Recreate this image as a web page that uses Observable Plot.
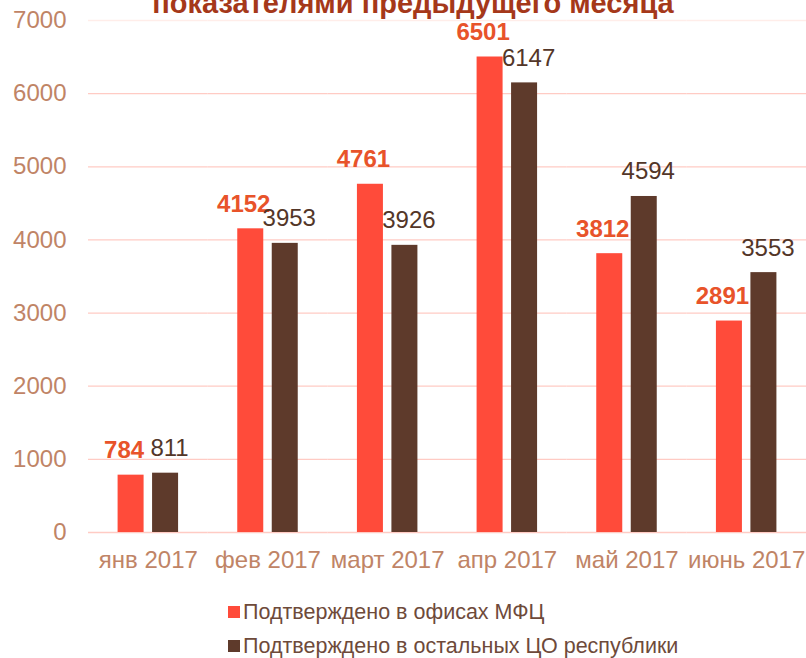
<!DOCTYPE html>
<html>
<head>
<meta charset="utf-8">
<script src="https://cdn.jsdelivr.net/npm/d3@7"></script>
<script src="https://cdn.jsdelivr.net/npm/@observablehq/plot@0.6"></script>
<style>
  html, body { margin: 0; padding: 0; background: #fff; }
  #wrap { position: relative; width: 806px; height: 658px; overflow: hidden; font-family: "Liberation Sans", Arial, sans-serif; }
  #title { position: absolute; left: 0; width: 826px; top: -11px; text-align: center; font-weight: bold; font-size: 29px; line-height: 29px; color: #A5381A; white-space: nowrap; }
  #chart { position: absolute; left: 0; top: 0; }
  #legend { position: absolute; left: 228px; top: 595px; font-size: 21.5px; color: #6E4A3A; }
  .row { display: flex; align-items: center; height: 34px; }
  .sw { width: 12px; height: 12px; margin-right: 3px; }
</style>
</head>
<body>
<div id="wrap">
  <div id="chart"></div>
  <div id="title">показателями предыдущего месяца</div>
  <div id="legend"></div>
</div>
<script>
const months = ["янв 2017", "фев 2017", "март 2017", "апр 2017", "май 2017", "июнь 2017"];
const seriesNames = ["Подтверждено в офисах МФЦ", "Подтверждено в остальных ЦО республики"];
const mfcValues = [784, 4152, 4761, 6501, 3812, 2891];
const otherValues = [811, 3953, 3926, 6147, 4594, 3553];
const yTicks = [0, 1000, 2000, 3000, 4000, 5000, 6000, 7000];
const seriesColors = ["#FF4B3A", "#5E3A2B"];

const mfcData = months.map((m, i) => ({month: m, series: seriesNames[0], value: mfcValues[i]}));
const otherData = months.map((m, i) => ({month: m, series: seriesNames[1], value: otherValues[i]}));
const data = mfcData.concat(otherData);

const chart = Plot.plot({
  width: 806,
  height: 585,
  marginLeft: 88,
  marginRight: 0,
  marginTop: 20,
  marginBottom: 53,
  style: {fontFamily: "'Liberation Sans', Arial, sans-serif", fontSize: "24px", color: "#C08466", background: "transparent"},
  fx: {domain: months, padding: 0, round: false, label: null, axis: "bottom", tickSize: 0, tickPadding: 18},
  x: {domain: seriesNames, paddingInner: 0.246, paddingOuter: 0.858, round: false, axis: null},
  y: {domain: [0, 7000], ticks: yTicks, tickFormat: d3.format("d"), tickSize: 0, tickPadding: 22, label: null, fontSize: 23.5},
  color: {domain: seriesNames, range: seriesColors},
  marks: [
    Plot.ruleY(yTicks.filter(t => t < 7000), {stroke: "#FFCBC4", strokeWidth: 1.3}),
    Plot.ruleY(yTicks.filter(t => t === 7000), {stroke: "#FFEDE9", strokeWidth: 1.3}),
    Plot.barY(data, {fx: "month", x: "series", y: "value", fill: "series"}),
    Plot.text(mfcData, {fx: "month", x: "series", y: "value", text: d => String(d.value), dx: -7, dy: -17, lineAnchor: "bottom", fill: "#E8532A", fontWeight: "bold", fontSize: 24}),
    Plot.text(otherData, {fx: "month", x: "series", y: "value", text: d => String(d.value), dx: 4, dy: -17, lineAnchor: "bottom", fill: "#533628", fontSize: 24})
  ]
});
document.getElementById("chart").appendChild(chart);

const legend = document.getElementById("legend");
seriesNames.forEach((name, i) => {
  const row = document.createElement("div");
  row.className = "row";
  const sw = document.createElement("div");
  sw.className = "sw";
  sw.style.background = seriesColors[i];
  const label = document.createElement("span");
  label.textContent = name;
  row.appendChild(sw);
  row.appendChild(label);
  legend.appendChild(row);
});
</script>
</body>
</html>
